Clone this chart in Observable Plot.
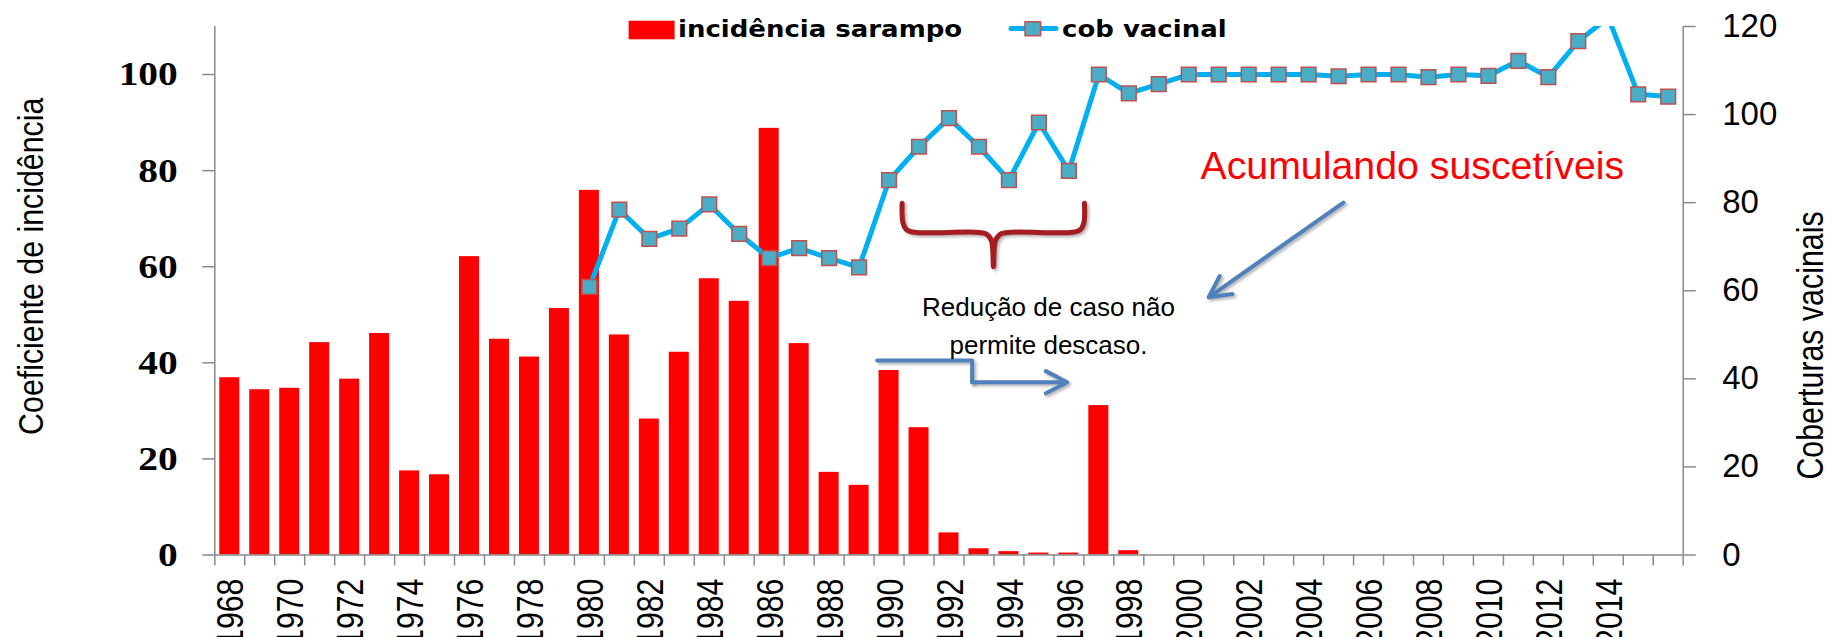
<!DOCTYPE html>
<html>
<head>
<meta charset="utf-8">
<script src="https://cdn.jsdelivr.net/npm/d3@7"></script>
<script src="https://cdn.jsdelivr.net/npm/@observablehq/plot@0.6"></script>
<style>
  html, body { margin: 0; padding: 0; background: #fff; }
  #wrap { position: relative; width: 1825px; height: 637px; overflow: hidden; background: #fff; }
  #legend { position: absolute; left: 0; top: 0; }
</style>
</head>
<body>
<div id="wrap"><div id="chart"></div><svg id="legend" width="1825" height="60"></svg></div>
<script>
// ---- data ----
const years = [1968,1969,1970,1971,1972,1973,1974,1975,1976,1977,1978,1979,1980,1981,1982,1983,1984,1985,1986,1987,1988,1989,1990,1991,1992,1993,1994,1995,1996,1997,1998,1999,2000,2001,2002,2003,2004,2005,2006,2007,2008,2009,2010,2011,2012,2013,2014,2015,2016];
const incidencia = [36.9,34.4,34.7,44.2,36.6,46.1,17.5,16.7,62.1,44.9,41.2,51.3,75.9,45.8,28.3,42.2,57.5,52.8,88.8,44.0,17.2,14.5,38.4,26.5,4.6,1.3,0.7,0.4,0.4,31.1,0.9,0,0,0,0,0,0,0,0,0,0,0,0,0,0,0,0,0,0];
const coberturaYears = [1980,1981,1982,1983,1984,1985,1986,1987,1988,1989,1990,1991,1992,1993,1994,1995,1996,1997,1998,1999,2000,2001,2002,2003,2004,2005,2006,2007,2008,2009,2010,2011,2012,2013,2014,2015,2016];
const cobertura = [60.9,78.4,71.8,74.1,79.6,72.9,67.4,69.7,67.4,65.3,85.1,92.7,99.2,92.7,85.1,98.2,87.2,109.1,104.8,106.9,109.1,109.1,109.1,109.1,109.1,108.7,109.1,109.1,108.5,109.1,108.8,112.2,108.5,116.7,122,104.6,104.1];
const yearTicks = [1968,1970,1972,1974,1976,1978,1980,1982,1984,1986,1988,1990,1992,1994,1996,1998,2000,2002,2004,2006,2008,2010,2012,2014];
const leftTicks = [0,20,40,60,80,100];
const rightTicks = [0,20,40,60,80,100,120];
const leftMax = 110, rightMax = 120;
const seriesNames = ["incidência sarampo", "cob vacinal"];
const axisTitles = ["Coeficiente de incidência", "Coberturas vacinais"];

// annotations in data coordinates (year, left-axis value)
const notes = [
  {text: "Acumulando suscetíveis", year: 2000.39, value: 78.17},
  {text: "Redução de caso não\npermite descaso.", year: 1995.32, value: 41.86}
];
const bracePts = [
  {year: 1990.436, value: 73.2}, {year: 1990.463, value: 69.18}, {year: 1990.58, value: 67.73},
  {year: 1990.847, value: 67.17}, {year: 1992.882, value: 67.17}, {year: 1993.249, value: 66.79},
  {year: 1993.416, value: 65.44}, {year: 1993.483, value: 60.03}, {year: 1993.549, value: 65.44},
  {year: 1993.716, value: 66.79}, {year: 1994.083, value: 67.17}, {year: 1996.119, value: 67.17},
  {year: 1996.385, value: 67.73}, {year: 1996.502, value: 69.18}, {year: 1996.519, value: 73.2}
];
const elbowPts = [
  {year: 1989.602, value: 40.47}, {year: 1992.772, value: 40.47}, {year: 1992.772, value: 35.96}
];
const arrows = [
  {x1: 2005.161, y1: 73.35, x2: 2000.666, y2: 53.64},
  {x1: 1992.772, y1: 35.96, x2: 1995.942, y2: 35.96}
];

// ---- build ----
const K = leftMax / rightMax;
const barData = years.map((year, i) => ({year, value: incidencia[i]}));
const lineData = coberturaYears.map((year, i) => ({year, value: cobertura[i] * K}));
const boundaries = [years[0] - 0.5, ...years.map(y => y + 0.5)];
const x0 = years[0] - 0.5, x1 = years[years.length - 1] + 0.5;
const grey = "#898989";
const blueArrow = "#4F81BD";
const braceRed = "#A51D21";

const chart = Plot.plot({
  width: 1825, height: 637,
  marginLeft: 214.3, marginRight: 142.3, marginTop: 26, marginBottom: 82.5,
  x: {type: "linear", domain: [x0, x1], axis: null},
  y: {domain: [0, leftMax], axis: null},
  style: {fontFamily: "'Liberation Sans', Arial, sans-serif", background: "#fff", color: "#000", overflow: "hidden"},
  marks: [
    Plot.rect(barData, {x1: d => d.year - 0.334, x2: d => d.year + 0.334, y1: 0, y2: "value", fill: "#FF0000"}),
    Plot.ruleY([0], {stroke: grey, strokeWidth: 1.5}),
    Plot.ruleX([x0, x1], {stroke: grey, strokeWidth: 1.5}),
    Plot.axisX(boundaries, {anchor: "bottom", label: null, tickSize: 11, tickFormat: () => "", stroke: grey, strokeWidth: 1.5}),
    Plot.axisX(yearTicks, {anchor: "bottom", label: null, tickSize: 0, tickPadding: 23.5, tickRotate: -90, textAnchor: "end", lineAnchor: "middle", fontSize: 37, dx: 1.8, tickFormat: d => String(d), fill: "#000"}),
    Plot.axisY(leftTicks, {anchor: "left", label: null, tickSize: 12, tickPadding: 25, fontSize: 34, fontFamily: "'Liberation Serif', 'Times New Roman', serif", fontWeight: "bold", stroke: grey, strokeWidth: 1.5, fill: "#000", tickFormat: d => String(d)}),
    Plot.axisY(rightTicks.map(d => d * K), {anchor: "right", label: null, tickSize: 12, tickPadding: 27, fontSize: 33, stroke: grey, strokeWidth: 1.5, fill: "#000", tickFormat: d => String(Math.round(d / K))}),
    Plot.line(lineData, {x: "year", y: "value", stroke: "#00B0F0", strokeWidth: 5, clip: true}),
    Plot.dot(lineData, {x: "year", y: "value", symbol: "square", r: 8.3, fill: "#4BACC6", stroke: "#C0504D", strokeWidth: 1.5, clip: true}),
    Plot.line(bracePts, {x: "year", y: "value", curve: "catmull-rom", stroke: braceRed, strokeWidth: 5, strokeLinecap: "round"}),
    Plot.line(elbowPts, {x: "year", y: "value", stroke: blueArrow, strokeWidth: 4}),
    Plot.arrow(arrows, {x1: "x1", y1: "y1", x2: "x2", y2: "y2", stroke: blueArrow, strokeWidth: 4, headLength: 9, headAngle: 55}),
    Plot.text(notes.slice(0, 1), {x: "year", y: "value", text: "text", textAnchor: "start", lineAnchor: "bottom", fontSize: 39.3, fill: "#FF0000"}),
    Plot.text(notes.slice(1), {x: "year", y: "value", text: "text", textAnchor: "middle", lineAnchor: "bottom", lineHeight: 1.46, fontSize: 26, fill: "#000"}),
    Plot.text([axisTitles[0]], {frameAnchor: "left", dx: -171.6, dy: -24.5, rotate: -90, textAnchor: "middle", lineAnchor: "bottom", fontSize: 36, fill: "#000"}),
    Plot.text([axisTitles[1]], {frameAnchor: "right", dx: 139.3, dy: 54.75, rotate: -90, textAnchor: "middle", lineAnchor: "bottom", fontSize: 37, fill: "#000"})
  ]
});
document.getElementById("chart").appendChild(chart);

// ---- glyph proportions (condensed sans, wide serif as in the original) ----
function appendScale(sel, s) {
  sel.each(function () {
    const t = this.getAttribute("transform");
    if (t) this.setAttribute("transform", t + " " + s);
  });
}
const root = d3.select(chart);
appendScale(root.selectAll('g[aria-label="x-axis tick label"] text'), "scale(0.82,1)");
root.selectAll('g[aria-label="text"] text').filter(function () {
  return (this.getAttribute("transform") || "").includes("rotate(-90)");
}).each(function () {
  appendScale(d3.select(this), this.textContent === axisTitles[0] ? "scale(0.843,1)" : "scale(0.82,1)");
});
root.selectAll('g[aria-label="y-axis tick label"]').each(function () {
  if (this.getAttribute("text-anchor") === "end") appendScale(d3.select(this).selectAll("text"), "scale(1.16,1)");
});
root.selectAll(`g[aria-label="arrow"], g[aria-label="line"][stroke="${blueArrow}"], g[aria-label="line"][stroke="${braceRed}"]`)
  .style("filter", "drop-shadow(2px 2px 1.5px rgba(0,0,0,0.3))");

// ---- legend ----
const lg = d3.select("#legend");
const lfont = "'DejaVu Sans', Verdana, sans-serif";
lg.append("rect").attr("x", 628.6).attr("y", 20.7).attr("width", 46).attr("height", 18.6).attr("fill", "#FF0000");
lg.append("text").attr("transform", "translate(678,37.3) scale(1.13,1)").attr("font-family", lfont).attr("font-weight", "bold").attr("font-size", 23).attr("fill", "#000").text(seriesNames[0]);
lg.append("line").attr("x1", 1011).attr("x2", 1056).attr("y1", 28.6).attr("y2", 28.6).attr("stroke", "#00B0F0").attr("stroke-width", 5).attr("stroke-linecap", "round");
lg.append("rect").attr("x", 1025).attr("y", 21.7).attr("width", 15.6).attr("height", 14).attr("fill", "#4BACC6").attr("stroke", "#C0504D").attr("stroke-width", 1.5);
lg.append("text").attr("transform", "translate(1062,37.3) scale(1.13,1)").attr("font-family", lfont).attr("font-weight", "bold").attr("font-size", 23).attr("fill", "#000").text(seriesNames[1]);
</script>
</body>
</html>
